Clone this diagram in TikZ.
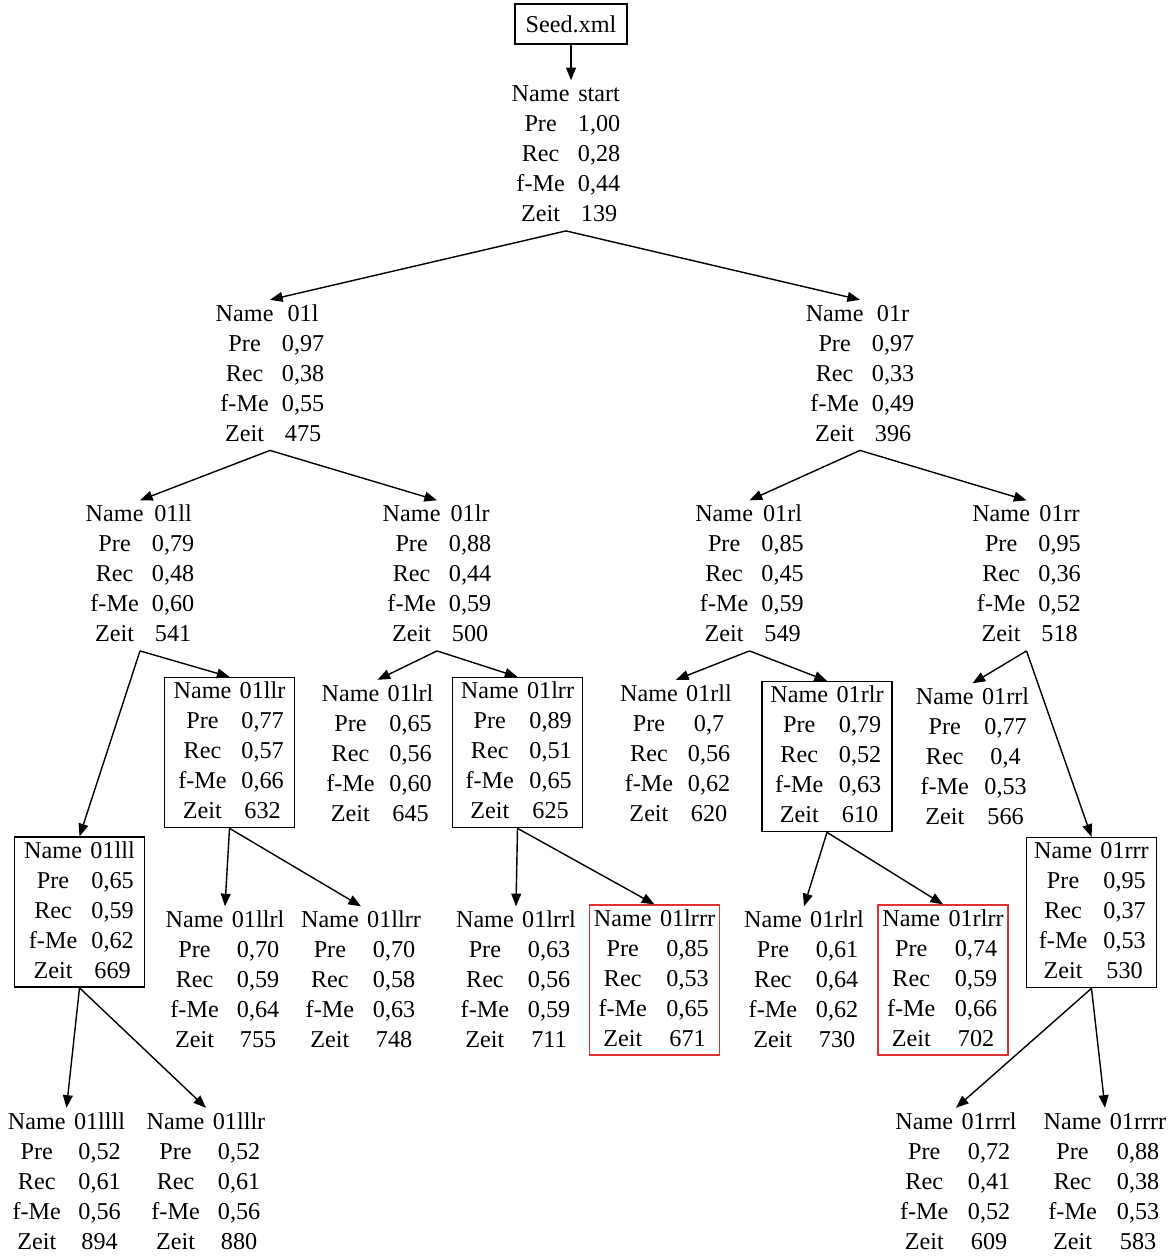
\documentclass[tikz,border=0pt]{standalone}
\usepackage{fontspec}
\setmainfont{Liberation Serif}
\usetikzlibrary{arrows.meta}
\definecolor{bestred}{RGB}{222,50,50}
\newcommand{\stats}[5]{%
  \begin{tabular}{@{}c@{\hspace{6pt}}c@{}}
    Name & #1\\ Pre & #2\\ Rec & #3\\ f-Me & #4\\ Zeit & #5
  \end{tabular}}

\begin{document}
\begin{tikzpicture}[
        x=0.025cm, y=-0.025cm,
        stat/.style={inner sep=0pt, yshift=-1.5pt, font=\fontsize{17.2pt}{21.34pt}\selectfont},
        picked/.style={stat, draw, line width=1pt, inner xsep=2pt, minimum width=3.25cm},
        best/.style={picked, draw=bestred},
        edge/.style={-{Triangle[length=9pt,width=7pt]}, line width=1pt},
    ]
        \useasboundingbox (0,0) rectangle (1168,1256);

        % Root
        \node[draw, line width=1pt, minimum width=2.8cm, minimum height=1cm,
            font=\fontsize{17.2pt}{21.34pt}\selectfont] (seed) at (571,24) {Seed.xml};
        \node[stat] (start) at (566,153.5) {\stats{start}{1,00}{0,28}{0,44}{139}};

        % Level 1 and 2
        \node[stat] (l) at (270,373) {\stats{01l}{0,97}{0,38}{0,55}{475}};
        \node[stat] (r) at (860,373) {\stats{01r}{0,97}{0,33}{0,49}{396}};

        \node[stat] (ll) at (140,573.5) {\stats{01ll}{0,79}{0,48}{0,60}{541}};
        \node[stat] (lr) at (437,573.5) {\stats{01lr}{0,88}{0,44}{0,59}{500}};
        \node[stat] (rl) at (749.5,573.5) {\stats{01rl}{0,85}{0,45}{0,59}{549}};
        \node[stat] (rr) at (1026.5,573.5) {\stats{01rr}{0,95}{0,36}{0,52}{518}};

        % Level 3
        \node[picked] (llr) at (229.5,750.5) {\stats{01llr}{0,77}{0,57}{0,66}{632}};
        \node[stat] (lrl) at (377.5,753) {\stats{01lrl}{0,65}{0,56}{0,60}{645}};
        \node[picked] (lrr) at (517.5,750.5) {\stats{01lrr}{0,89}{0,51}{0,65}{625}};
        \node[stat] (rll) at (676,753) {\stats{01rll}{0,7}{0,56}{0,62}{620}};
        \node[picked] (rlr) at (827,754.5) {\stats{01rlr}{0,79}{0,52}{0,63}{610}};
        \node[stat] (rrl) at (972.5,756.5) {\stats{01rrl}{0,77}{0,4}{0,53}{566}};
        \node[picked] (lll) at (79.5,910) {\stats{01lll}{0,65}{0,59}{0,62}{669}};
        \node[picked] (rrr) at (1091.5,910.5) {\stats{01rrr}{0,95}{0,37}{0,53}{530}};

        % Level 4
        \node[stat] (llrl) at (225,979.5) {\stats{01llrl}{0,70}{0,59}{0,64}{755}};
        \node[stat] (llrr) at (361,979.5) {\stats{01llrr}{0,70}{0,58}{0,63}{748}};
        \node[stat] (lrrl) at (516,979.5) {\stats{01lrrl}{0,63}{0,56}{0,59}{711}};
        \node[best] (lrrr) at (654.5,978) {\stats{01lrrr}{0,85}{0,53}{0,65}{671}};
        \node[stat] (rlrl) at (804,979.5) {\stats{01rlrl}{0,61}{0,64}{0,62}{730}};
        \node[best] (rlrr) at (943,978) {\stats{01rlrr}{0,74}{0,59}{0,66}{702}};

        % Level 5
        \node[stat] (llll) at (66.5,1181) {\stats{01llll}{0,52}{0,61}{0,56}{894}};
        \node[stat] (lllr) at (206,1181) {\stats{01lllr}{0,52}{0,61}{0,56}{880}};
        \node[stat] (rrrl) at (956,1181) {\stats{01rrrl}{0,72}{0,41}{0,52}{609}};
        \node[stat] (rrrr) at (1105,1181) {\stats{01rrrr}{0,88}{0,38}{0,53}{583}};

        % Edges
        \draw[edge] (seed.south) -- (seed.south |- start.north);
        \draw[edge] (start.south) -- (l.north);
        \draw[edge] (start.south) -- (r.north);
        \draw[edge] (l.south) -- (ll.north);
        \draw[edge] (l.south) -- (lr.north);
        \draw[edge] (r.south) -- (rl.north);
        \draw[edge] (r.south) -- (rr.north);
        \draw[edge] (ll.south) -- (lll.north);
        \draw[edge] (ll.south) -- (llr.north);
        \draw[edge] (lr.south) -- (lrl.north);
        \draw[edge] (lr.south) -- (lrr.north);
        \draw[edge] (rl.south) -- (rll.north);
        \draw[edge] (rl.south) -- (rlr.north);
        \draw[edge] (rr.south) -- (rrl.north);
        \draw[edge] (rr.south) -- (rrr.north);
        \draw[edge] (llr.south) -- (llrl.north);
        \draw[edge] (llr.south) -- (llrr.north);
        \draw[edge] (lrr.south) -- (lrrl.north);
        \draw[edge] (lrr.south) -- (lrrr.north);
        \draw[edge] (rlr.south) -- (rlrl.north);
        \draw[edge] (rlr.south) -- (rlrr.north);
        \draw[edge] (lll.south) -- (llll.north);
        \draw[edge] (lll.south) -- (lllr.north);
        \draw[edge] (rrr.south) -- (rrrl.north);
        \draw[edge] (rrr.south) -- (rrrr.north);
    \end{tikzpicture}
\end{document}
